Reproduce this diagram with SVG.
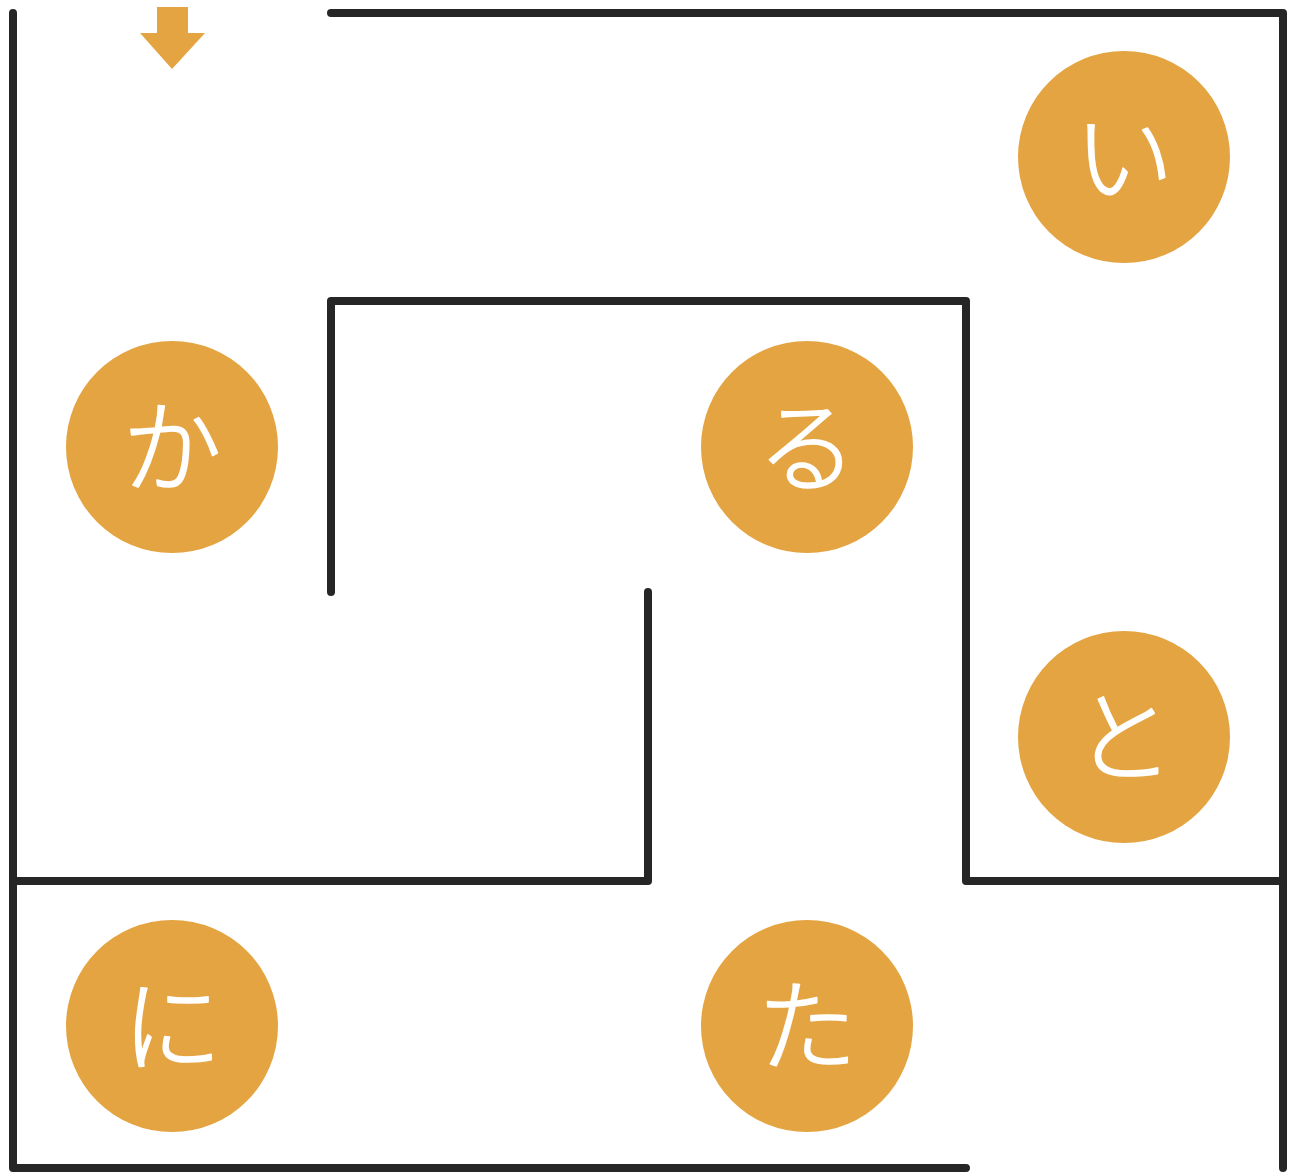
<svg xmlns="http://www.w3.org/2000/svg" width="1292" height="1174" viewBox="0 0 1292 1174">
<style>
.wall{fill:none;stroke:#262626;stroke-width:8;stroke-linecap:round;stroke-linejoin:round}
.node circle{fill:#E4A441}
.node text{fill:#fff;stroke:#fff;stroke-width:1.6;stroke-linejoin:round;font-family:"Noto Sans CJK JP","Noto Sans",sans-serif;font-size:100px;font-weight:300;text-anchor:middle;dominant-baseline:central}
</style>
<rect width="1292" height="1174" fill="#fff"/>
<g id="walls">
<path class="wall" d="M13 13V1168H966"/>
<path class="wall" d="M331 13H1283V1168"/>
<path class="wall" d="M331 592V301H966V881H1283"/>
<path class="wall" d="M13 881H648V592"/>
</g>
<g id="start-arrow">
<polygon points="157,7 188,7 188,33 205,33 172,69 140,33 157,33" fill="#E4A441"/>
</g>
<g id="node-i" class="node"><circle cx="1124" cy="157" r="106"/><text x="1124" y="150">い</text></g>
<g id="node-ka" class="node"><circle cx="172" cy="447" r="106"/><text x="172" y="440">か</text></g>
<g id="node-ru" class="node"><circle cx="807" cy="447" r="106"/><text x="807" y="440">る</text></g>
<g id="node-to" class="node"><circle cx="1124" cy="737" r="106"/><text x="1124" y="730">と</text></g>
<g id="node-ni" class="node"><circle cx="172" cy="1026" r="106"/><text x="172" y="1019">に</text></g>
<g id="node-ta" class="node"><circle cx="807" cy="1026" r="106"/><text x="807" y="1019">た</text></g>
</svg>
